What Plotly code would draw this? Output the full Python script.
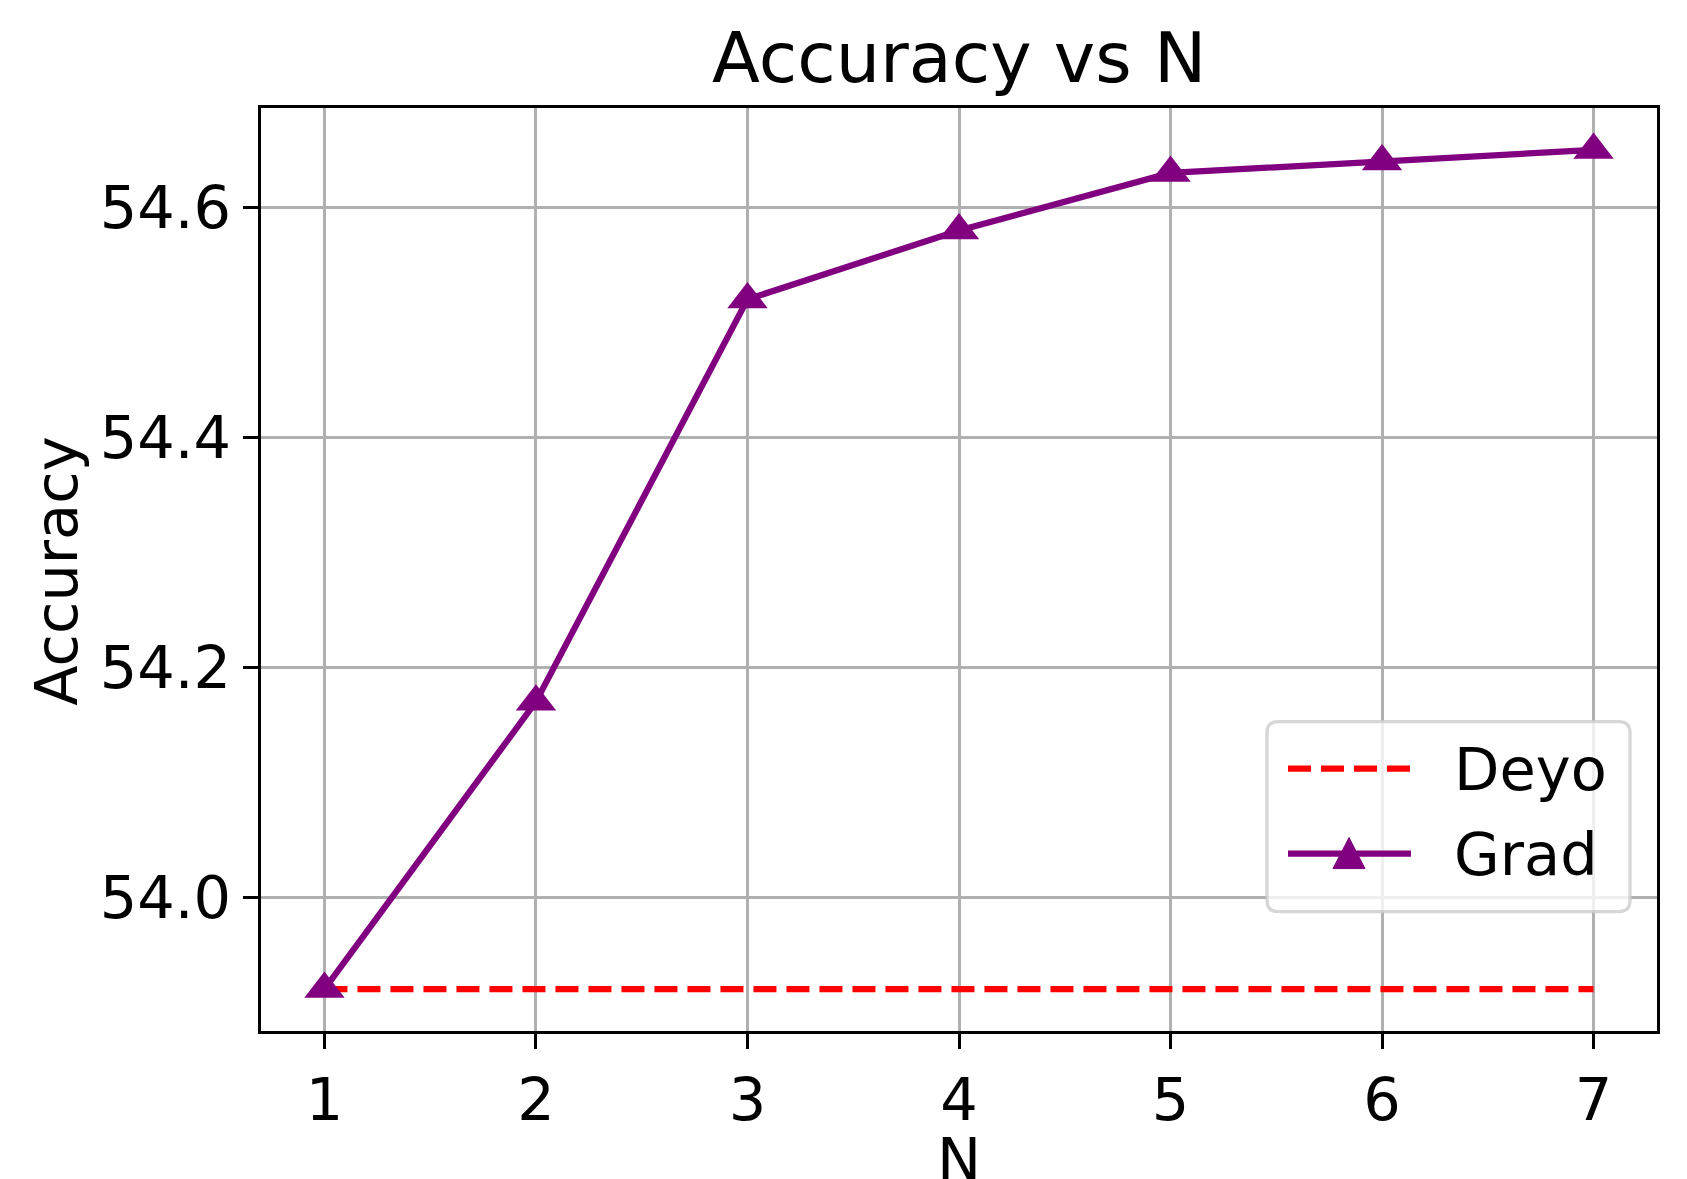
import plotly.graph_objects as go

# Data
n_values = [1, 2, 3, 4, 5, 6, 7]
grad_acc = [53.92, 54.17, 54.52, 54.58, 54.63, 54.64, 54.65]
deyo_acc = [53.92, 53.92, 53.92, 53.92, 53.92, 53.92, 53.92]
y_ticks = [54.0, 54.2, 54.4, 54.6]
y_tick_labels = ["54.0", "54.2", "54.4", "54.6"]
title_text = "Accuracy vs N"
x_label = "N"
y_label = "Accuracy"
series_names = ["Deyo", "Grad"]

W, H = 1687, 1179
L, R, T, B = 261, 1657, 108, 1031.5
PW, PH = R - L, B - T
FONT = "DejaVu Sans"
FS = 59


def px(x):
    return (x - L) / PW


def py(y):
    return (B - y) / PH


fig = go.Figure()
fig.add_trace(go.Scatter(
    x=n_values, y=deyo_acc, mode="lines", name=series_names[0],
    line=dict(color="red", width=6.25, dash="23px,10px"), showlegend=False))
fig.add_trace(go.Scatter(
    x=n_values, y=grad_acc, mode="lines+markers", name=series_names[1],
    line=dict(color="purple", width=6.25),
    marker=dict(symbol="triangle-up", size=35, color="purple", line=dict(width=0)),
    showlegend=False))

axis_common = dict(
    showgrid=True, gridcolor="#b0b0b0", gridwidth=3.3,
    showline=True, linecolor="black", linewidth=3.3, mirror=True,
    ticks="outside", ticklen=15, tickwidth=3.3, tickcolor="black",
    tickfont=dict(family=FONT, size=FS, color="black"),
    zeroline=False,
)
fig.update_xaxes(range=[0.7, 7.3], tickvals=n_values, ticktext=[str(v) for v in n_values], **axis_common)
fig.update_yaxes(range=[53.8835, 54.6865], tickvals=y_ticks, ticktext=y_tick_labels, **axis_common)

annotations = [
    dict(text=title_text, x=0.5, y=py(58), xref="paper", yref="paper",
         xanchor="center", yanchor="middle", showarrow=False,
         font=dict(family=FONT, size=70, color="black")),
    dict(text=x_label, x=0.5, y=-0.1, xref="paper", yref="paper",
         xanchor="center", yanchor="top", showarrow=False,
         font=dict(family=FONT, size=FS, color="black")),
    dict(text=y_label, x=px(57), y=py(571), xref="paper", yref="paper",
         xanchor="center", yanchor="middle", showarrow=False, textangle=-90,
         font=dict(family=FONT, size=FS, color="black")),
    dict(text=series_names[0], x=px(1452), y=py(770), xref="paper", yref="paper",
         xanchor="left", yanchor="middle", showarrow=False,
         font=dict(family=FONT, size=FS, color="black")),
    dict(text=series_names[1], x=px(1452), y=py(855), xref="paper", yref="paper",
         xanchor="left", yanchor="middle", showarrow=False,
         font=dict(family=FONT, size=FS, color="black")),
]

# Legend box with rounded corners (in pixel->paper coords)
x0, x1, y0, y1, r = 1267, 1630, 722, 912, 11
def P(x, y):
    return f"{px(x):.5f},{py(y):.5f}"
path = (f"M {P(x0 + r, y0)} L {P(x1 - r, y0)} Q {P(x1, y0)} {P(x1, y0 + r)} "
        f"L {P(x1, y1 - r)} Q {P(x1, y1)} {P(x1 - r, y1)} "
        f"L {P(x0 + r, y1)} Q {P(x0, y1)} {P(x0, y1 - r)} "
        f"L {P(x0, y0 + r)} Q {P(x0, y0)} {P(x0 + r, y0)} Z")
shapes = [
    dict(type="path", path=path, xref="paper", yref="paper",
         fillcolor="rgba(255,255,255,0.8)", line=dict(color="rgba(204,204,204,0.8)", width=3.3)),
    dict(type="line", xref="paper", yref="paper", x0=px(1288), x1=px(1410), y0=py(769), y1=py(769),
         line=dict(color="red", width=6.25, dash="23px,10px")),
    dict(type="line", xref="paper", yref="paper", x0=px(1288), x1=px(1411), y0=py(854), y1=py(854),
         line=dict(color="purple", width=6.25)),
    dict(type="path", xref="paper", yref="paper",
         path=f"M {P(1349, 838)} L {P(1365, 869)} L {P(1333, 869)} Z",
         fillcolor="purple", line=dict(color="purple", width=1)),
]

fig.update_layout(
    width=W, height=H,
    margin=dict(l=L, r=W - R, t=T, b=H - B),
    paper_bgcolor="white", plot_bgcolor="white",
    annotations=annotations, shapes=shapes, showlegend=False,
    font=dict(family=FONT),
)
fig.write_html("out.html")
